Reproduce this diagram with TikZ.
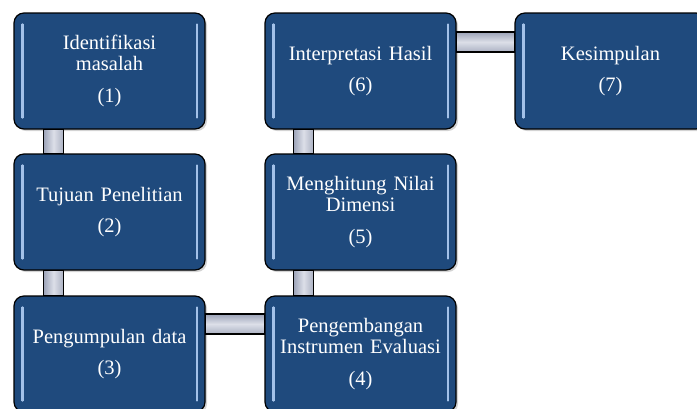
\documentclass[tikz,border=0pt]{standalone}
\usepackage{fontspec}
\setmainfont{Liberation Serif}
\usetikzlibrary{shadows}
\definecolor{boxblue}{HTML}{1F4A7D}
\definecolor{stripblue}{HTML}{A3C1E8}
\definecolor{bardark}{HTML}{9CA3B8}
\definecolor{barlight}{HTML}{DCDFE8}
\tikzset{
  stepnode/.style={draw=black, line width=1.2pt, fill=boxblue, rounded corners=10pt,
    minimum width=191pt, minimum height=116pt, text width=185pt, align=center,
    text=white, inner sep=0pt, font=\fontsize{20.5}{21}\selectfont,
    drop shadow={shadow xshift=2pt, shadow yshift=-2pt, opacity=0.35}},
  vbar/.style={draw=black, line width=1.2pt, left color=bardark, right color=bardark!85, middle color=barlight},
  hbar/.style={draw=black, line width=1.2pt, top color=bardark, bottom color=bardark!85, middle color=barlight},
  strip/.style={line width=2.2pt, stripblue, line cap=round}
}
\begin{document}
\begin{tikzpicture}[x=1pt, y=-1pt]
        \useasboundingbox (0,0) rectangle (697,408);
        \node[stepnode] (ident) at (109.5,71) {Identifikasi\\masalah\\[11pt](1)};
        \node[stepnode] (tujuan) at (109.5,212) {Tujuan Penelitian\\[10pt](2)};
        \node[stepnode] (kumpul) at (109.5,354) {Pengumpulan data\\[10pt](3)};
        \node[stepnode] (instrumen) at (360.5,354) {Pengembangan\\Instrumen Evaluasi\\[11pt](4)};
        \node[stepnode] (hitung) at (360.5,212) {Menghitung Nilai\\Dimensi\\[11pt](5)};
        \node[stepnode] (interp) at (360.5,71) {Interpretasi Hasil\\[10pt](6)};
        \node[stepnode] (simpul) at (610.5,71) {Kesimpulan\\[10pt](7)};
        \foreach \n in {ident,tujuan,kumpul,instrumen,hitung,interp,simpul} {
            \draw[strip] ([xshift=9pt,yshift=-12pt]\n.north west) -- ([xshift=9pt,yshift=12pt]\n.south west);
            \draw[strip] ([xshift=-9pt,yshift=-12pt]\n.north east) -- ([xshift=-9pt,yshift=12pt]\n.south east);
        }
        \shade[vbar] ([xshift=-66pt]ident.south) rectangle ([xshift=-46pt]tujuan.north);
        \shade[vbar] ([xshift=-66pt]tujuan.south) rectangle ([xshift=-46pt]kumpul.north);
        \shade[vbar] ([xshift=-67pt]instrumen.north) rectangle ([xshift=-47pt]hitung.south);
        \shade[vbar] ([xshift=-67pt]hitung.north) rectangle ([xshift=-47pt]interp.south);
        \shade[hbar] ([yshift=40pt]kumpul.east) rectangle ([yshift=20pt]instrumen.west);
        \shade[hbar] ([yshift=39pt]interp.east) rectangle ([yshift=19pt]simpul.west);
    \end{tikzpicture}
\end{document}
